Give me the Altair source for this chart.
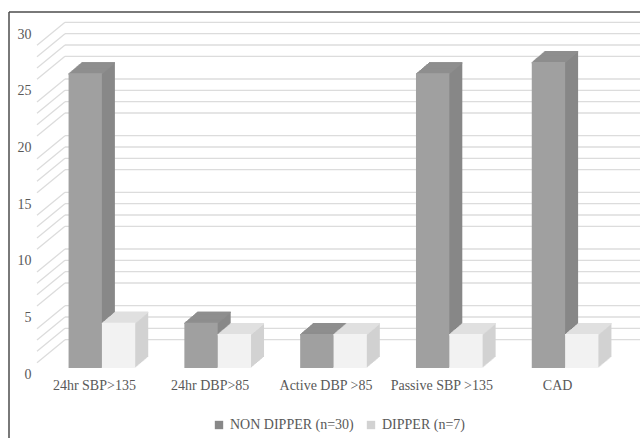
import altair as alt
import pandas as pd

categories = ["24hr SBP>135", "24hr DBP>85", "Active DBP >85", "Passive SBP >135", "CAD"]
series_names = ["NON DIPPER (n=30)", "DIPPER (n=7)"]
non_dipper = [26, 4, 3, 26, 27]
dipper = [4, 3, 3, 3, 3]
y_ticks = [0, 5, 10, 15, 20, 25, 30]
minor_grid = [1, 2, 3, 4, 6, 7, 8, 9, 11, 12, 13, 14, 16, 17, 18, 19,
              21, 22, 23, 24, 26, 27, 28, 29]

df = pd.DataFrame({
    "category": categories * 2,
    "series": [series_names[0]] * len(categories) + [series_names[1]] * len(categories),
    "value": non_dipper + dipper,
})
grid_df = pd.DataFrame({"v": minor_grid})
one = pd.DataFrame({"a": [0]})

FONT = "Liberation Serif, Times New Roman, DejaVu Serif, serif"
TXT = "#595959"
W, H = 579, 340

x_scale = alt.Scale(domain=categories, paddingInner=0, paddingOuter=0)
y_scale = alt.Scale(domain=[0, 30], nice=False, zero=True)
color_scale = alt.Scale(domain=series_names, range=["#888888", "#d2d2d2"])

legend = alt.Legend(
    title=None, orient="none", direction="horizontal", legendX=168, legendY=390,
    symbolType="square", symbolSize=70, symbolStrokeWidth=0,
    labelFont=FONT, labelFontSize=14, labelColor=TXT, columnPadding=10,
    symbolOpacity=1,
)

x_axis = alt.Axis(title=None, labelAngle=0, domain=False, ticks=False, grid=False,
                  labelOffset=-7.5, labelPadding=10, labelFont=FONT, labelFontSize=14,
                  labelColor=TXT)
y_axis = alt.Axis(title=None, values=y_ticks, domain=False, ticks=False, grid=False,
                  labelPadding=13, labelOffset=6, labelFont=FONT, labelFontSize=14,
                  labelColor=TXT)


def Y(field):
    return alt.Y(field, scale=y_scale, axis=y_axis)


def X():
    return alt.X("category:N", scale=x_scale, sort=categories, axis=x_axis)


layers = []

# back wall gridlines
layers.append(
    alt.Chart(grid_df).mark_rule(color="#dcdcdc", strokeWidth=1.3, yOffset=-17).encode(
        y=Y("v:Q"),
        x=alt.value(21), x2=alt.value(600),
    )
)
# side wall diagonals
layers.append(
    alt.Chart(grid_df).mark_rule(color="#dcdcdc", strokeWidth=1.3, yOffset=6, y2Offset=-17).encode(
        y=Y("v:Q"),
        y2="v:Q",
        x=alt.value(-7), x2=alt.value(21),
    )
)

DEPTH = 13
RATIO = 11.0 / 13.0
BAR_W = 33.33
front_cols = {series_names[0]: "#a0a0a0", series_names[1]: "#f2f2f2"}
top_cols = {series_names[0]: "#8e8e8e", series_names[1]: "#e0e0e0"}
offsets = {series_names[0]: -BAR_W / 2, series_names[1]: BAR_W / 2}

for s in series_names:
    base = alt.Chart(df).transform_filter(alt.datum.series == s)
    # side faces (extrusion)
    for k in range(DEPTH, 0, -1):
        layers.append(
            base.mark_bar(width=BAR_W, xOffset=offsets[s] + k, yOffset=-RATIO * k,
                          y2Offset=-RATIO * k).encode(
                x=X(),
                y=Y("value:Q"),
                y2=alt.datum(0),
                color=alt.Color("series:N", scale=color_scale, legend=legend),
            )
        )
    # top faces
    for k in range(DEPTH, -1, -1):
        layers.append(
            base.mark_bar(width=BAR_W, xOffset=offsets[s] + k, yOffset=-RATIO * k,
                          y2Offset=-RATIO * k + 1.4, color=top_cols[s]).encode(
                x=X(),
                y=Y("value:Q"),
                y2="value:Q",
            )
        )
    # front face
    layers.append(
        base.mark_bar(width=BAR_W, xOffset=offsets[s], color=front_cols[s]).encode(
            x=X(),
            y=Y("value:Q"),
            y2=alt.datum(0),
        )
    )

# outer frame (top and left edges visible)
layers.append(
    alt.Chart(one).mark_rule(color="#4d4d4d", strokeWidth=1.5).encode(
        x=alt.value(-35), x2=alt.value(600), y=alt.value(-16)
    )
)
layers.append(
    alt.Chart(one).mark_rule(color="#4d4d4d", strokeWidth=1.5).encode(
        x=alt.value(-35), y=alt.value(-16), y2=alt.value(420)
    )
)

chart = alt.layer(*layers).properties(
    width=W, height=H,
    padding={"left": 44, "top": 28, "right": 17, "bottom": 70},
    autosize="none", background="white",
).configure_view(stroke=None)

chart.save("out.html", embed_options={"renderer": "svg", "actions": False})
